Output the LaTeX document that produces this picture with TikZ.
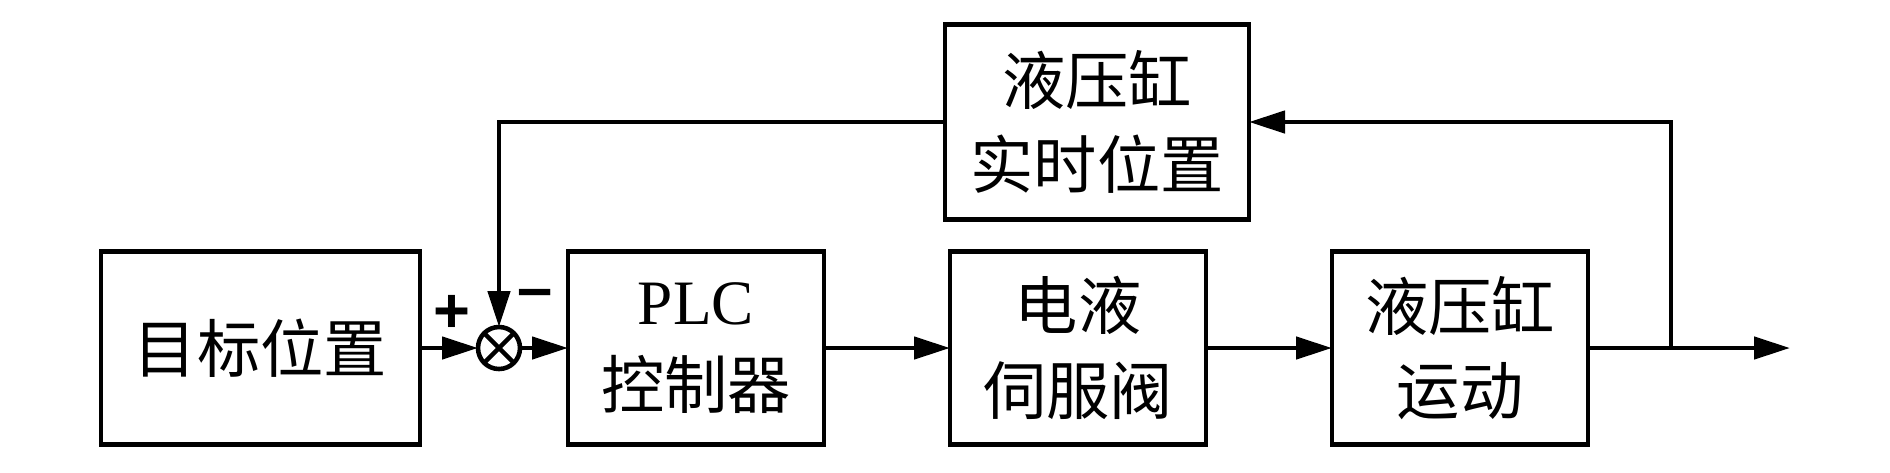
\documentclass[tikz,border=0pt]{standalone}
\usepackage{fontspec}
\setmainfont{Liberation Serif}
\setsansfont{Liberation Sans}
\newfontfamily\cjk{Noto Sans CJK SC}
\usetikzlibrary{arrows.meta,positioning}
\tikzstyle{block} = [rectangle, draw, line width=1.3pt, outer sep=0pt, minimum width=2.56cm, minimum height=1.93cm, align=center, inner sep=0pt, font=\fontsize{18}{24}\selectfont\cjk]
\tikzstyle{sumnode} = [circle, draw, line width=1.3pt, outer sep=0pt, minimum size=0.42cm, inner sep=0pt]
\tikzstyle{arrow} = [line width=1.3pt, -{Triangle[length=3.6mm,width=2.2mm]}]
\tikzstyle{sign} = [inner sep=0pt, font=\fontsize{18}{18}\selectfont\sffamily\bfseries]

\begin{document}
\begin{tikzpicture}
\useasboundingbox (0,0) rectangle (18.9,4.72);
% Forward path
\node (target) [block, minimum width=3.19cm] at (2.605,1.24) {目标位置};
\node (sum) [sumnode, right=0.58cm of target] {};
\draw[line width=1.3pt] (sum.north east) -- (sum.south west) (sum.north west) -- (sum.south east);
\node (plc) [block, right=0.48cm of sum] {{\rmfamily PLC}\\控制器};
\node (valve) [block, right=1.26cm of plc] {电液\\伺服阀};
\node (cyl) [block, right=1.26cm of valve] {液压缸\\运动};

% Feedback block
\node (pos) [block, minimum width=3.04cm, minimum height=1.95cm] at (10.97,3.5) {液压缸\\实时位置};
\coordinate (branch) at ([xshift=0.83cm]cyl.east);
\coordinate (out) at ([xshift=2.02cm]cyl.east);

% Signs
\node (plus) [sign] at ([shift={(-0.47,0.34)}]sum) {+};
\node (minus) [sign] at ([shift={(0.36,0.49)}]sum) {–};

% Arrows
\draw[arrow] (target) -- (sum);
\draw[arrow] (sum) -- (plc);
\draw[arrow] (plc) -- (valve);
\draw[arrow] (valve) -- (cyl);
\draw[arrow] (cyl) -- (out);
\draw[arrow] (branch) |- (pos);
\draw[arrow] (pos) -| (sum);
\end{tikzpicture}
\end{document}
